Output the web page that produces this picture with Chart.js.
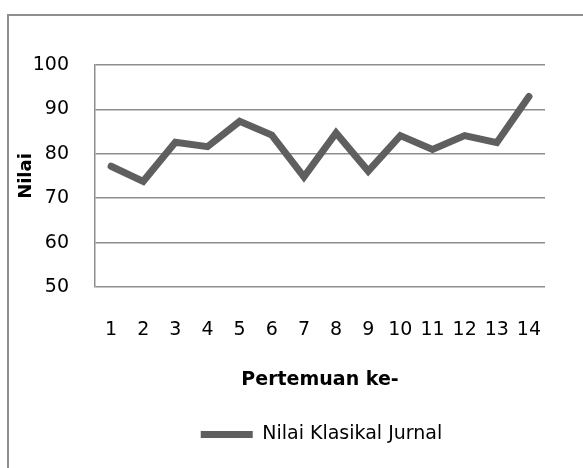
<!DOCTYPE html>
<html>
<head>
<meta charset="utf-8">
<script src="https://cdn.jsdelivr.net/npm/chart.js@4"></script>
<style>
  html, body { margin: 0; padding: 0; background: #fff; }
  #wrap { position: relative; width: 583px; height: 468px; overflow: hidden; }
  #frame { position: absolute; left: 7px; top: 14px; width: 600px; height: 500px;
           border-top: 2px solid #8e8e8e; border-left: 2px solid #8e8e8e; }
  canvas { position: absolute; left: 0; top: 0; }
</style>
</head>
<body>
<div id="wrap">
  <div id="frame"></div>
  <canvas id="chart" width="583" height="468"></canvas>
</div>
<script>
var pertemuan = ['1', '2', '3', '4', '5', '6', '7', '8', '9', '10', '11', '12', '13', '14'];
var nilaiKlasikal = [77.2, 73.8, 82.6, 81.6, 87.3, 84.2, 74.8, 84.7, 76.1, 84.1, 81.0, 84.1, 82.5, 92.9];
var yTicks = [50, 60, 70, 80, 90, 100];

var font = "'DejaVu Sans', sans-serif";

// push the legend a little right, as in the original
var legendShift = {
    id: 'legendShift',
    afterLayout: function (chart) {
        chart.legend.left += 49;
        chart.legend.right += 49;
    }
};

var ctx = document.getElementById('chart').getContext('2d');
var myChart = new Chart(ctx, {
    type: 'line',
    data: {
        labels: pertemuan,
        datasets: [{
            label: 'Nilai Klasikal Jurnal',
            data: nilaiKlasikal,
            borderColor: '#5f5f5f',
            backgroundColor: '#5f5f5f',
            borderWidth: 7,
            borderCapStyle: 'round',
            borderJoinStyle: 'miter',
            pointRadius: 0,
            pointHoverRadius: 0,
            tension: 0,
            fill: false
        }]
    },
    options: {
        responsive: false,
        animation: false,
        events: [],
        layout: {
            padding: { left: 0, right: 38, top: 65, bottom: 14 }
        },
        plugins: {
            tooltip: { enabled: false },
            legend: {
                position: 'bottom',
                labels: {
                    usePointStyle: true,
                    pointStyle: 'line',
                    pointStyleWidth: 52,
                    color: '#000',
                    padding: 12,
                    font: { family: font, size: 19 }
                }
            }
        },
        scales: {
            x: {
                offset: true,
                grid: { display: false, drawTicks: false },
                border: { display: false },
                ticks: {
                    color: '#000',
                    padding: 32,
                    maxRotation: 0,
                    autoSkip: false,
                    font: { family: font, size: 19 }
                },
                title: {
                    display: true,
                    text: 'Pertemuan ke-',
                    color: '#000',
                    padding: { top: 0, bottom: 22 },
                    font: { family: font, size: 19, weight: 'bold' }
                },
                afterFit: function (scale) { scale.height = 126; }
            },
            y: {
                min: 50,
                max: 100,
                afterBuildTicks: function (scale) {
                    scale.ticks = yTicks.map(function (v) { return { value: v }; });
                },
                grid: { color: '#8e8e8e', lineWidth: 1.5, drawTicks: false },
                border: { display: true, color: '#8e8e8e', width: 1.5 },
                ticks: {
                    color: '#000',
                    padding: 26,
                    font: { family: font, size: 19 }
                },
                title: {
                    display: true,
                    text: 'Nilai',
                    color: '#000',
                    padding: { top: 16, bottom: 0 },
                    font: { family: font, size: 18, weight: 'bold' }
                },
                afterFit: function (scale) { scale.width = 95; }
            }
        }
    },
    plugins: [legendShift]
});
</script>
</body>
</html>
